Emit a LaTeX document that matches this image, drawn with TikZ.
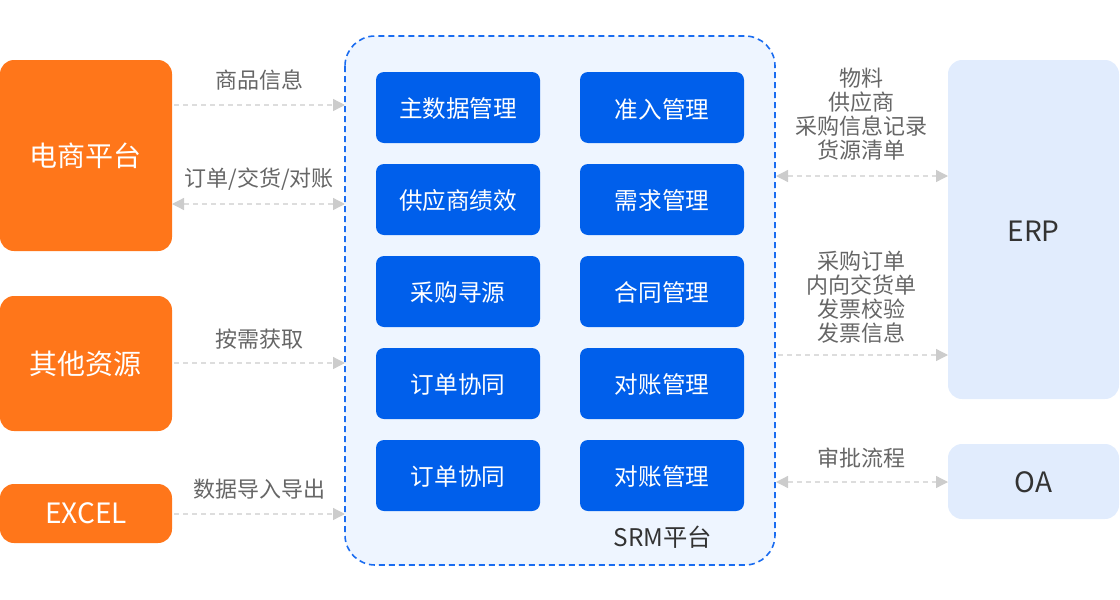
\documentclass[tikz,border=0pt]{standalone}
\usepackage{fontspec}
\setmainfont{Noto Sans CJK SC}
\usetikzlibrary{arrows.meta}
\definecolor{orng}{HTML}{FF761A}
\definecolor{bbox}{HTML}{005FEB}
\definecolor{srmfill}{HTML}{EEF5FF}
\definecolor{srmline}{HTML}{1A6CF0}
\definecolor{erpfill}{HTML}{E1ECFD}
\definecolor{lblgray}{HTML}{666666}
\definecolor{dkgray}{HTML}{333333}
\definecolor{linegray}{HTML}{DDDDDD}
\definecolor{tipgray}{HTML}{CCCCCC}
\tikzset{
  srcbox/.style={fill=orng, rounded corners=14pt, text=white, font=\fontsize{28}{32}\selectfont},
  modbox/.style={fill=bbox, rounded corners=8pt, text=white, font=\fontsize{23.6}{28}\selectfont},
  sysbox/.style={fill=erpfill, rounded corners=14pt, text=dkgray, font=\fontsize{28}{32}\selectfont},
  lbl/.style={text=lblgray, font=\fontsize{22}{24}\selectfont, align=center},
  flow/.style={draw=linegray, line width=1.3pt, dash pattern=on 5pt off 4pt,
    -{Triangle[length=12pt,width=12pt,color=tipgray]}},
  biflow/.style={draw=linegray, line width=1.3pt, dash pattern=on 5pt off 4pt,
    {Triangle[length=12pt,width=12pt,color=tipgray]}-{Triangle[length=12pt,width=12pt,color=tipgray]}},
}
\begin{document}
\begin{tikzpicture}[x=1pt,y=-1pt]
\useasboundingbox (0,0) rectangle (1120,600);
% SRM container
\draw[srmline, fill=srmfill, line width=1.6pt, dash pattern=on 6pt off 4pt, rounded corners=30pt] (345,36) rectangle (775,565);
\node[text=dkgray, font=\fontsize{24.3}{28}\selectfont] (srm) at (663,537) {SRM平台};
% source boxes
\path[srcbox] (0,60) rectangle (172,251) node[midway] (ec) {电商平台};
\path[srcbox] (0,296) rectangle (172,431) node[midway] (oth) {其他资源};
\path[srcbox] (0,484) rectangle (172,543) node[midway] (xl) {EXCEL};
% right systems
\path[sysbox] (948,60) rectangle (1119,399) node[midway,yshift=-2pt] (erp) {ERP};
\path[sysbox] (948,444) rectangle (1119,519) node[midway,yshift=-1pt] (oa) {OA};
% modules
\foreach \t/\y [count=\i] in {主数据管理/72,供应商绩效/164,采购寻源/256,订单协同/348,订单协同/440}{
  \path[modbox] (376,\y) rectangle (540,\y+71) node[midway,yshift=-1.5pt] (l\i) {\t};
}
\foreach \t/\y [count=\i] in {准入管理/72,需求管理/164,合同管理/256,对账管理/348,对账管理/440}{
  \path[modbox] (580,\y) rectangle (744,\y+71) node[midway,yshift=-1.5pt] (r\i) {\t};
}
% connector endpoints
\coordinate (a1s) at (174,105); \coordinate (a1e) at (345,105);
\coordinate (a2s) at (172,204); \coordinate (a2e) at (345,204);
\coordinate (a3s) at (174,363); \coordinate (a3e) at (345,363);
\coordinate (a4s) at (174,514); \coordinate (a4e) at (345,514);
\coordinate (b1s) at (776,176); \coordinate (b1e) at (948,176);
\coordinate (b2s) at (778,355); \coordinate (b2e) at (948,355);
\coordinate (b3s) at (776,482); \coordinate (b3e) at (948,482);
\draw[flow] (a1s) -- (a1e);
\draw[biflow] (a2s) -- (a2e);
\draw[flow] (a3s) -- (a3e);
\draw[flow] (a4s) -- (a4e);
\draw[biflow] (b1s) -- (b1e);
\draw[flow] (b2s) -- (b2e);
\draw[biflow] (b3s) -- (b3e);
% labels
\node[lbl] (t1) at (259,80) {商品信息};
\node[lbl] (t2) at (259,179) {订单/交货/对账};
\node[lbl] (t3) at (259,339) {按需获取};
\node[lbl] (t4) at (259,489) {数据导入导出};
\node[lbl] (t5) at (861,114) {物料\\供应商\\采购信息记录\\货源清单};
\node[lbl] (t6) at (861,297) {采购订单\\内向交货单\\发票校验\\发票信息};
\node[lbl] (t7) at (861,458) {审批流程};
\end{tikzpicture}
\end{document}
